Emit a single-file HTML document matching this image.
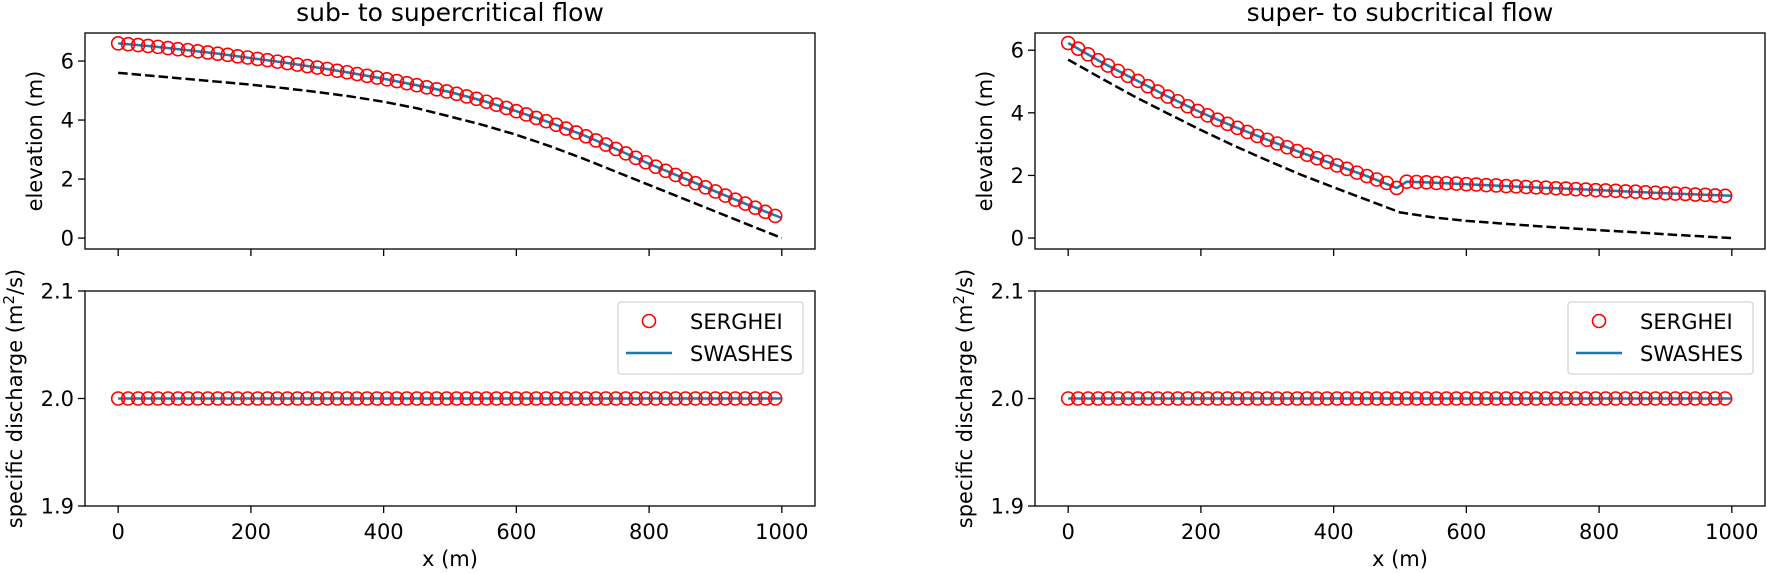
<!DOCTYPE html>
<html><head><meta charset="utf-8"><style>
html,body{margin:0;padding:0;background:#fff;}
svg{display:block;font-family:"DejaVu Sans","Liberation Sans",sans-serif;}
</style></head><body>
<svg id="chart" width="1767" height="573" viewBox="0 0 1767 573" xmlns="http://www.w3.org/2000/svg"></svg>
<script>
// ---- data ----
const xMarkers = Array.from({length:67},(_,i)=>i*15);
const xLine = [0,50,100,150,200,250,300,350,400,450,500,550,600,650,700,750,800,850,900,950,1000];
const xLineRight = [0,50,100,150,200,250,300,350,400,450,495,510,550,600,650,700,750,800,850,900,950,1000];
const xTicks = [0,200,400,600,800,1000];
const elevTicks = [0,2,4,6];
const qTicks = [1.9,2.0,2.1];
const qTickLabels = ['1.9','2.0','2.1'];
const titles = ['sub- to supercritical flow','super- to subcritical flow'];

const leftSerghei = [6.60,6.57,6.54,6.51,6.48,6.44,6.40,6.37,6.33,6.29,6.25,6.21,6.16,6.12,6.07,6.03,5.98,5.93,5.88,5.83,5.78,5.73,5.67,5.62,5.56,5.50,5.44,5.38,5.32,5.25,5.18,5.11,5.04,4.97,4.89,4.80,4.72,4.62,4.52,4.41,4.30,4.19,4.07,3.96,3.84,3.71,3.58,3.45,3.31,3.17,3.02,2.87,2.72,2.57,2.42,2.28,2.14,2.00,1.86,1.72,1.58,1.44,1.30,1.17,1.03,0.89,0.75];
const leftSwashes = [6.60,6.50,6.38,6.25,6.10,5.95,5.78,5.60,5.40,5.18,4.95,4.65,4.30,3.92,3.50,3.02,2.52,2.05,1.58,1.12,0.68];
const leftBed = [5.60,5.50,5.40,5.30,5.20,5.08,4.95,4.80,4.62,4.40,4.12,3.83,3.50,3.12,2.70,2.25,1.80,1.35,0.90,0.45,0.00];

const rightSerghei = [6.23,6.05,5.87,5.68,5.51,5.34,5.18,5.02,4.85,4.68,4.52,4.37,4.21,4.06,3.92,3.78,3.65,3.52,3.39,3.26,3.14,3.02,2.90,2.78,2.66,2.55,2.43,2.32,2.21,2.09,1.98,1.87,1.76,1.60,1.80,1.79,1.78,1.76,1.75,1.74,1.72,1.71,1.69,1.68,1.66,1.65,1.63,1.62,1.61,1.59,1.58,1.56,1.55,1.53,1.52,1.51,1.49,1.48,1.46,1.45,1.43,1.42,1.41,1.39,1.38,1.36,1.35];
const rightSwashes = [6.23,5.62,5.07,4.52,4.01,3.56,3.14,2.74,2.36,1.98,1.60,1.80,1.77,1.72,1.67,1.62,1.58,1.53,1.48,1.43,1.39,1.35];
const rightBed = [5.70,5.10,4.52,3.98,3.45,2.95,2.48,2.03,1.62,1.22,0.82,0.66,0.55,0.47,0.39,0.32,0.25,0.19,0.12,0.06,0.00];

const qSerghei = xMarkers.map(()=>2.0);
const qSwashes = [2.0,2.0];
const qLineX = [0,1000];

// ---- drawing ----
const NS='http://www.w3.org/2000/svg';
const svg=document.getElementById('chart');
function mk(tag,attrs,parent){const e=document.createElementNS(NS,tag);for(const k in attrs)e.setAttribute(k,attrs[k]);(parent||svg).appendChild(e);return e;}

const FS=21;
const panels=[
 {L:85,R:815,ylimTop:[-0.37,6.95],surfM:leftSerghei,surfL:leftSwashes,surfLX:xLine,bed:leftBed,title:titles[0],side:'left'},
 {L:1035,R:1765,ylimTop:[-0.35,6.55],surfM:rightSerghei,surfL:rightSwashes,surfLX:xLineRight,bed:rightBed,title:titles[1],side:'right'}
];
const TOP={T:33,B:249}, BOT={T:291,B:506};

panels.forEach(p=>{
  const g=mk('g',{});
  
  
  const xs=v=>p.L+(v+50)/1100*(p.R-p.L);
  const yT=v=>TOP.B-(v-p.ylimTop[0])/(p.ylimTop[1]-p.ylimTop[0])*(TOP.B-TOP.T);
  const yB=v=>BOT.B-(v-1.9)/0.2*(BOT.B-BOT.T);
  const cx=(p.L+p.R)/2;

  const t=mk('text',{x:cx,y:21,'text-anchor':'middle','font-size':25,fill:'#000'},g);
  t.textContent=p.title;
  
  

  // top axes
  const ta=mk('g',{},g);
  
  
  const clipId='clipT'+p.side;
  const cp=mk('clipPath',{id:clipId},ta); mk('rect',{x:p.L,y:TOP.T,width:p.R-p.L,height:TOP.B-TOP.T},cp);
  const bedPts=xLine.map((x,i)=>xs(x)+','+yT(p.bed[i])).join(' ');
  const bed=mk('polyline',{points:bedPts,fill:'none',stroke:'#000','stroke-width':2.5,'stroke-dasharray':'9.5,4','clip-path':'url(#'+clipId+')'},ta);
  
  
  const sw=mk('polyline',{points:p.surfLX.map((x,i)=>xs(x)+','+yT(p.surfL[i])).join(' '),fill:'none',stroke:'#1f77b4','stroke-width':2.5},ta);
  
  
  xMarkers.forEach((x,i)=>{
    const c=mk('circle',{cx:xs(x),cy:yT(p.surfM[i]),r:6.5,fill:'none',stroke:'#ff0000','stroke-width':1.6},ta);
    
    
  });
  mk('rect',{x:p.L,y:TOP.T,width:p.R-p.L,height:TOP.B-TOP.T,fill:'none',stroke:'#000','stroke-width':1.3},ta);
  xTicks.forEach(v=>{mk('line',{x1:xs(v),x2:xs(v),y1:TOP.B,y2:TOP.B+7,stroke:'#000','stroke-width':1.3},ta);});
  elevTicks.forEach(v=>{
    mk('line',{x1:p.L-7,x2:p.L,y1:yT(v),y2:yT(v),stroke:'#000','stroke-width':1.3},ta);
    const tl=mk('text',{x:p.L-11,y:yT(v)+7.5,'text-anchor':'end','font-size':FS},ta);tl.textContent=String(v);
    
    
  });
  const yl=mk('text',{x:0,y:0,'text-anchor':'middle','font-size':FS,transform:`translate(${p.L-43},${(TOP.T+TOP.B)/2}) rotate(-90)`},ta);
  yl.textContent='elevation (m)';
  
  

  // bottom axes
  const ba=mk('g',{},g);
  
  
  const ql=mk('polyline',{points:qLineX.map((x,i)=>xs(x)+','+yB(qSwashes[i])).join(' '),fill:'none',stroke:'#1f77b4','stroke-width':2.5},ba);
  
  
  xMarkers.forEach((x,i)=>{
    const c=mk('circle',{cx:xs(x),cy:yB(qSerghei[i]),r:6.5,fill:'none',stroke:'#ff0000','stroke-width':1.6},ba);
    
    
  });
  mk('rect',{x:p.L,y:BOT.T,width:p.R-p.L,height:BOT.B-BOT.T,fill:'none',stroke:'#000','stroke-width':1.3},ba);
  xTicks.forEach(v=>{
    mk('line',{x1:xs(v),x2:xs(v),y1:BOT.B,y2:BOT.B+7,stroke:'#000','stroke-width':1.3},ba);
    const tl=mk('text',{x:xs(v),y:BOT.B+33,'text-anchor':'middle','font-size':FS},ba);tl.textContent=String(v);
    
    
  });
  qTicks.forEach((v,i)=>{
    mk('line',{x1:p.L-7,x2:p.L,y1:yB(v),y2:yB(v),stroke:'#000','stroke-width':1.3},ba);
    const tl=mk('text',{x:p.L-11,y:yB(v)+7.5,'text-anchor':'end','font-size':FS},ba);tl.textContent=qTickLabels[i];
    
    
  });
  const ql2=mk('text',{x:0,y:0,'text-anchor':'middle','font-size':FS,transform:`translate(${p.L-63},${(BOT.T+BOT.B)/2}) rotate(-90)`},ba);
  ql2.innerHTML='specific discharge (m<tspan dy="-8" font-size="15">2</tspan><tspan dy="8">/s)</tspan>';
  
  
  const xl=mk('text',{x:cx,y:566,'text-anchor':'middle','font-size':FS},ba);
  xl.textContent='x (m)';
  
  

  // legend
  const lg=mk('g',{},ba);
  
  
  const lx=p.R-197;
  mk('rect',{x:lx,y:302,width:185,height:72,rx:3,fill:'#fff',stroke:'#d5d5d5','stroke-width':1.3},lg);
  mk('circle',{cx:lx+31,cy:321,r:6.5,fill:'none',stroke:'#ff0000','stroke-width':1.6},lg);
  const t1=mk('text',{x:lx+72,y:329,'font-size':FS},lg);t1.textContent='SERGHEI';
  
  
  mk('line',{x1:lx+8,x2:lx+54,y1:353,y2:353,stroke:'#1f77b4','stroke-width':2.5},lg);
  const t2=mk('text',{x:lx+72,y:361,'font-size':FS},lg);t2.textContent='SWASHES';
  
  
});
</script>
</body></html>
